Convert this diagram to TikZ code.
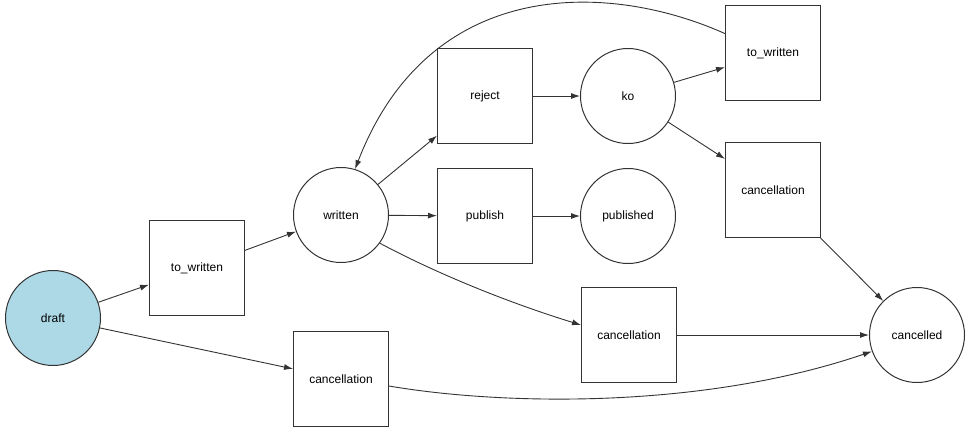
\documentclass[tikz,border=0pt]{standalone}
\usepackage{fontspec}
\setmainfont{Liberation Sans}
\usetikzlibrary{arrows.meta}
\definecolor{edge}{HTML}{333333}
\definecolor{draftfill}{HTML}{ADD8E6}
\begin{document}
\begin{tikzpicture}[x=1pt,y=-1pt,
  every node/.style={font=\fontsize{12}{14}\selectfont, text=black},
  place/.style={circle, draw=edge, line width=1pt, minimum size=95pt, inner sep=0pt},
  trans/.style={rectangle, draw=edge, line width=1pt, minimum size=95pt, inner sep=0pt},
  conn/.style={draw=edge, line width=0.9pt, -{Latex[length=9pt,width=6pt]}}]
\useasboundingbox (0,0) rectangle (971,432);
\node[place, fill=draftfill] (draft) at (53,318) {draft};
\node[trans] (tw1) at (197,268) {to\_written};
\node[place] (written) at (341,215) {written};
\node[trans] (reject) at (485,96) {reject};
\node[trans] (publish) at (485,216) {publish};
\node[place] (ko) at (628,96) {ko};
\node[place] (published) at (628,216) {published};
\node[trans] (tw2) at (773,53) {to\_written};
\node[trans] (ct) at (773,190) {cancellation};
\node[trans] (cm) at (629,335) {cancellation};
\node[trans] (cb) at (341,379) {cancellation};
\node[place] (cancelled) at (917,335) {cancelled};

\draw[conn] (draft) -- (tw1);
\draw[conn] (tw1) -- (written);
\draw[conn] (written) -- (reject);
\draw[conn] (written) -- (publish);
\draw[conn] (reject) -- (ko);
\draw[conn] (publish) -- (published);
\draw[conn] (ko) -- (tw2);
\draw[conn] (ko) -- (ct);
\draw[conn] (ct) -- (cancelled);
\draw[conn] (cm) -- (cancelled);
\draw[conn] (draft) -- (cb);
\draw[conn] (written.-36) .. controls (430,270) and (500,300) .. (cm.west |- 0,325);
\draw[conn] (tw2.158) .. controls (610,-18) and (430,-25) .. (written.73);
\draw[conn] (cb.east |- 0,386) .. controls (500,405) and (700,410) .. (cancelled.200);
\end{tikzpicture}
\end{document}
